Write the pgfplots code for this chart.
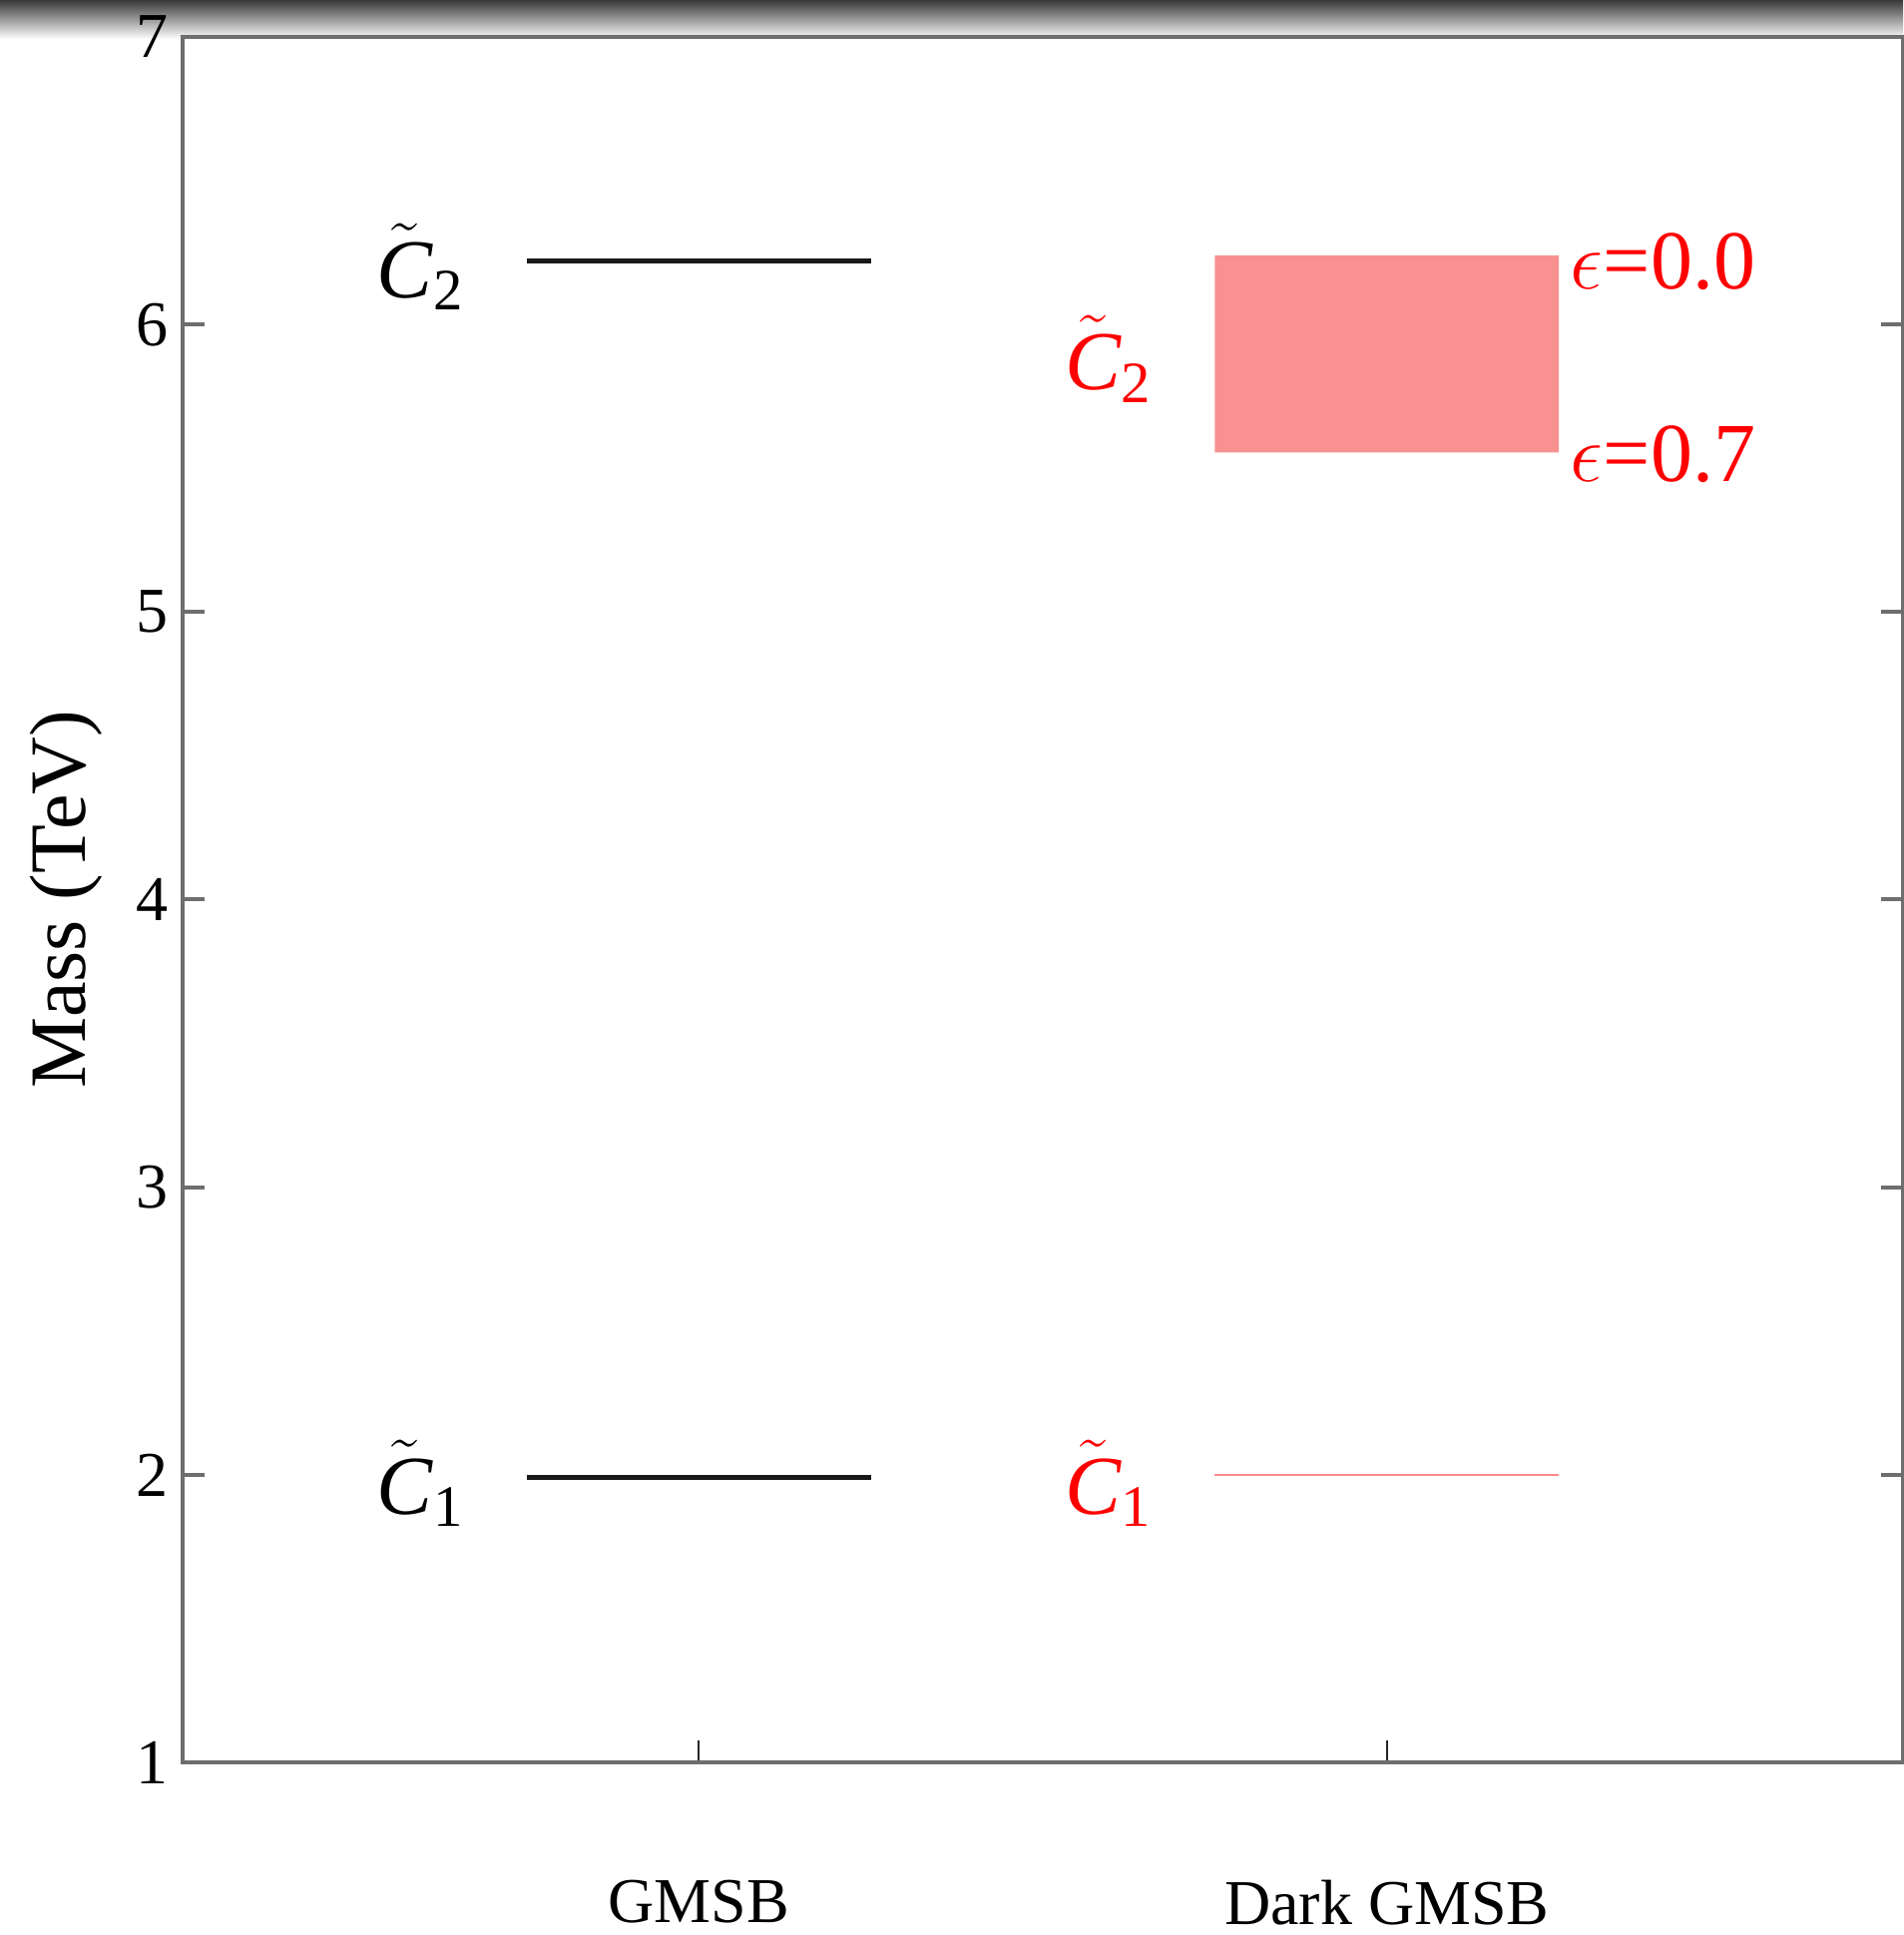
\documentclass[border=0pt]{standalone}
\usepackage{fontspec}
\setmainfont{Liberation Serif}
\usepackage{pgfplots}
\pgfplotsset{compat=1.18}

\definecolor{spine}{HTML}{6E6E6E}
\definecolor{boxred}{HTML}{F99191}
\definecolor{linered}{HTML}{FF8A8A}

\newcommand{\Ct}[1]{$\tilde{\hbox{\itshape C}}$\textsubscript{#1}}

\begin{document}
\begin{tikzpicture}
% page is 1907 x 1939 px at 0.25pt per px
\path[use as bounding box] (0,0) rectangle (476.75pt,484.75pt);
% dark band at the top of the screenshot
\shade[top color=black!78, bottom color=white] (0,475pt) rectangle (476.75pt,484.75pt);

\begin{axis}[
    at={(45.75pt,43.25pt)}, anchor=south west,
    scale only axis,
    width=431pt, height=432.25pt,
    xmin=0.25, xmax=2.75,
    ymin=1, ymax=7,
    xtick={1,2},
    xticklabels={GMSB, Dark GMSB},
    ytick={1,2,3,4,5,6,7},
    xtick pos=bottom,
    ytick pos=both,
    tick align=inside,
    major tick length=5.5pt,
    minor tick num=0,
    axis line style={draw=spine, line width=1pt},
    xtick style={black!85, line width=0.5pt},
    ytick style={spine, line width=1pt},
    ticklabel style={font=\fontsize{16}{19}\selectfont},
    /pgf/number format/assume math mode=true,
    xticklabel style={yshift=-26pt},
    ylabel={Mass (TeV)},
    ylabel style={font=\fontsize{20}{24}\selectfont, at={(axis description cs:-0.068,0.5)}, anchor=center},
    clip=false,
]
% GMSB levels
\addplot[black!90, line width=1.3pt] coordinates {(0.75,6.22) (1.25,6.22)};
\addplot[black!90, line width=1.3pt] coordinates {(0.75,1.99) (1.25,1.99)};

% Dark GMSB: C2 band from eps=0.7 to eps=0.0, C1 line
\addplot[draw=none, fill=boxred] coordinates {(1.75,5.555) (2.25,5.555) (2.25,6.24) (1.75,6.24) (1.75,5.555)};
\addplot[linered, line width=0.6pt] coordinates {(1.75,2.0) (2.25,2.0)};

% labels
\node[anchor=east, font=\fontsize{21}{25}\selectfont] at (axis cs:0.68,6.20) {\Ct{2}};
\node[anchor=east, font=\fontsize{21}{25}\selectfont] at (axis cs:0.68,1.97) {\Ct{1}};
\node[anchor=east, text=red, font=\fontsize{21}{25}\selectfont] at (axis cs:1.68,5.88) {\Ct{2}};
\node[anchor=east, text=red, font=\fontsize{21}{25}\selectfont] at (axis cs:1.68,1.97) {\Ct{1}};
\node[anchor=west, text=red, font=\fontsize{21}{25}\selectfont, inner sep=1pt] at (axis cs:2.26,6.22) {$\epsilon$=0.0};
\node[anchor=west, text=red, font=\fontsize{21}{25}\selectfont, inner sep=1pt] at (axis cs:2.26,5.55) {$\epsilon$=0.7};
\end{axis}
\end{tikzpicture}
\end{document}
